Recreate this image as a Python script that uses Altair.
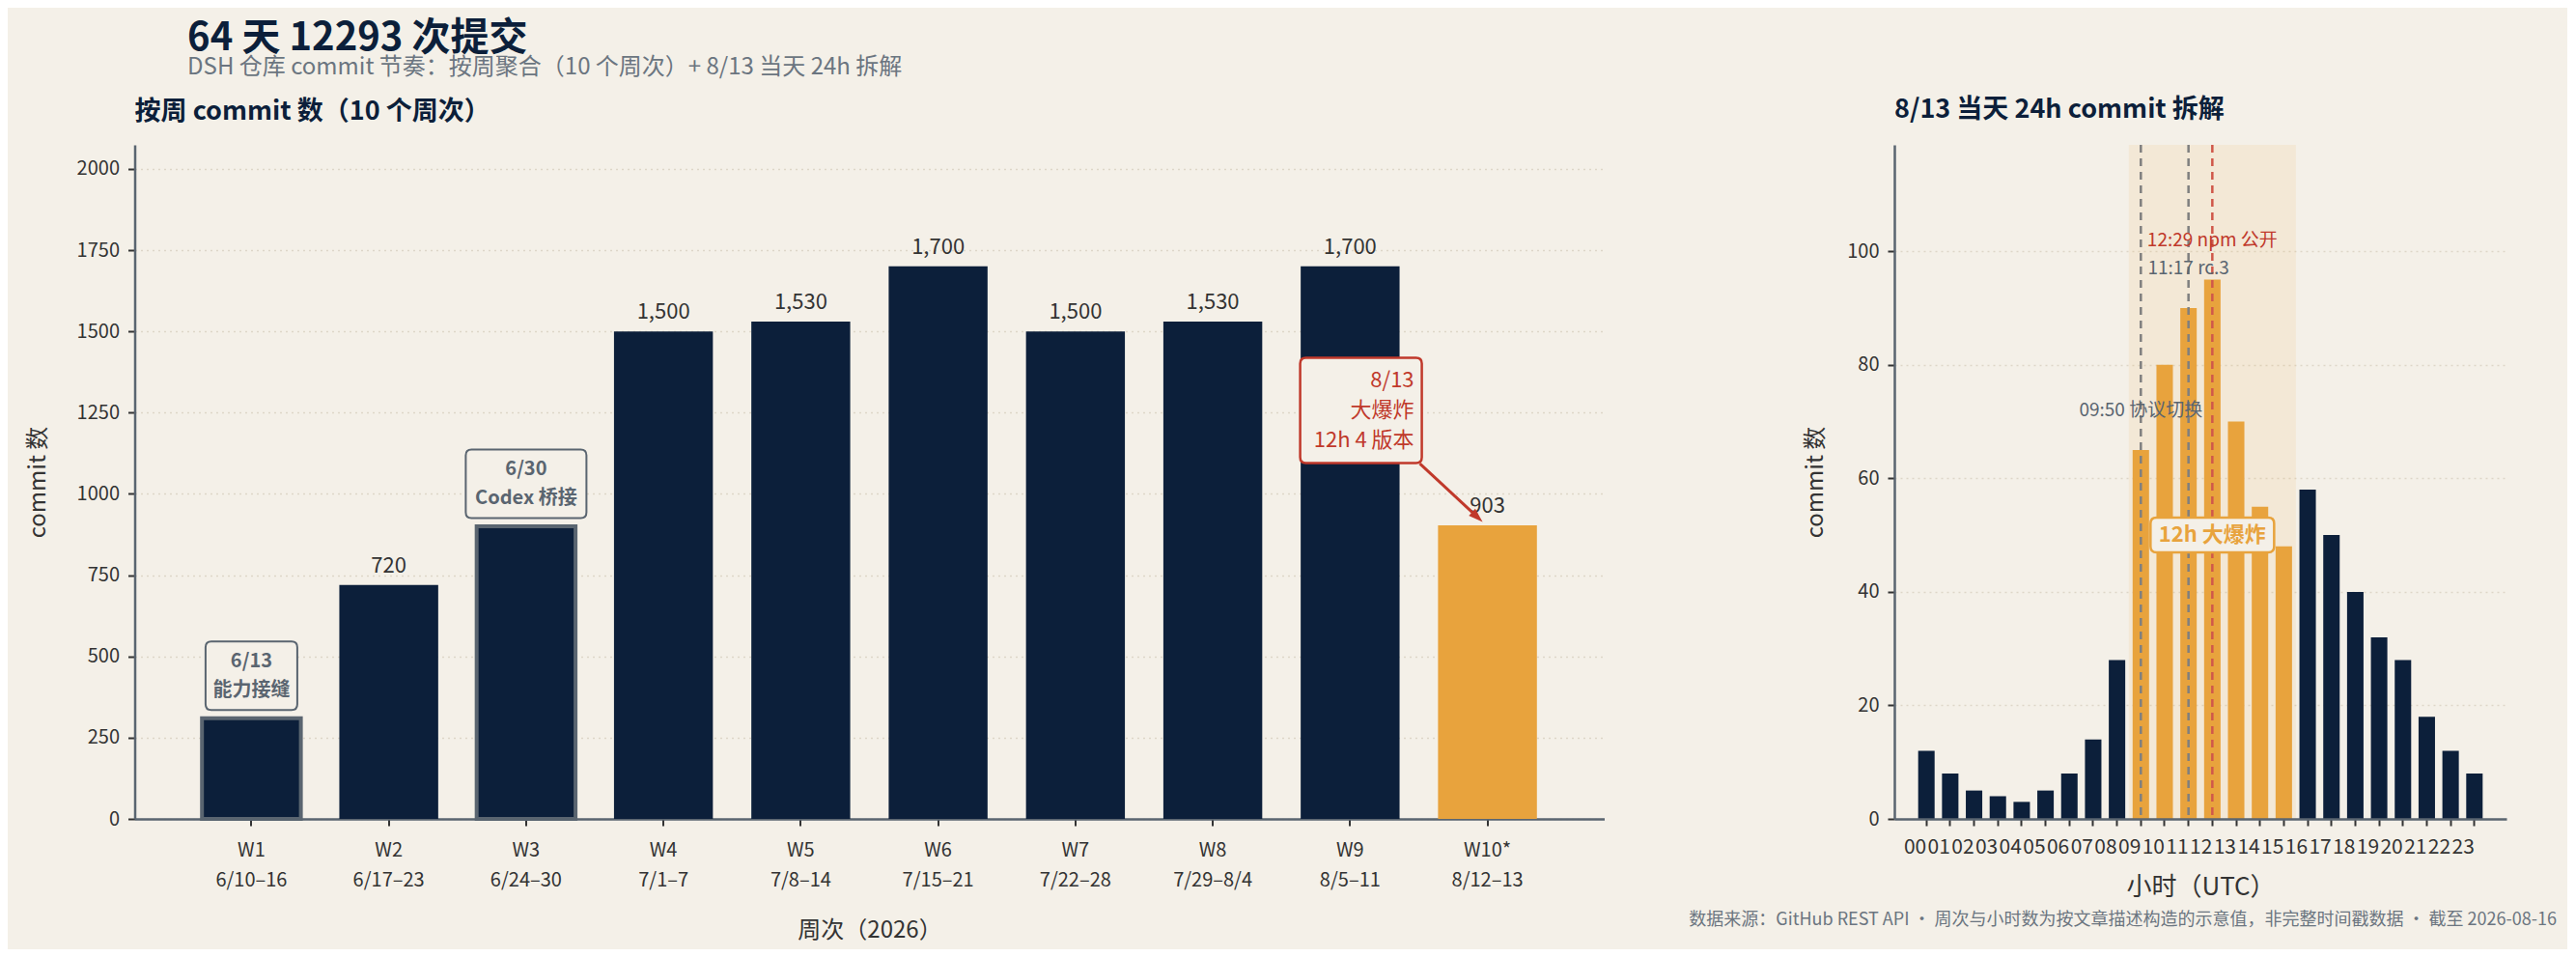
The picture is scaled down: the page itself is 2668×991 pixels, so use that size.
import altair as alt
import pandas as pd

NAVY = "#0c1f3a"
ORANGE = "#e8a33d"
BG = "#f4f0e8"
GRAY = "#5a6570"
RED = "#c0392b"
INK = "#333333"
GRID = "#ddd6c8"
FONT = "Noto Sans CJK SC"

# weekly commits, 10 weeks
week_names = ["W1", "W2", "W3", "W4", "W5", "W6", "W7", "W8", "W9", "W10*"]
week_spans = ["6/10–16", "6/17–23", "6/24–30", "7/1–7", "7/8–14",
              "7/15–21", "7/22–28", "7/29–8/4", "8/5–11", "8/12–13"]
week_commits = [310, 720, 900, 1500, 1530, 1700, 1500, 1530, 1700, 903]
week_kind = ["marked", "normal", "marked", "normal", "normal",
             "normal", "normal", "normal", "normal", "today"]

# notes on the weekly panel
note_weeks = ["W1", "W3"]
note_texts = ["6/13\n能力接缝", "6/30\nCodex 桥接"]
today_week = "W10*"
today_text = "8/13\n大爆炸\n12h 4 版本"

# 8/13 hourly commits (UTC)
hours = ["00", "01", "02", "03", "04", "05", "06", "07", "08", "09", "10", "11",
         "12", "13", "14", "15", "16", "17", "18", "19", "20", "21", "22", "23"]
hour_commits = [12, 8, 5, 4, 3, 5, 8, 14, 28, 65, 80, 90,
                95, 70, 55, 48, 58, 50, 40, 32, 28, 18, 12, 8]
burst_hours = ["09", "10", "11", "12", "13", "14", "15"]
event_hours = ["09", "11", "12"]
event_texts = ["09:50 协议切换", "11:17 rc.3", "12:29 npm 公开"]
event_kinds = ["step", "step", "release"]
burst_text = "12h 大爆炸"
burst_level = 50

footer = "数据来源：GitHub REST API · 周次与小时数为按文章描述构造的示意值，非完整时间戳数据 · 截至 2026-08-16"


def box_path(w, h, r):
    hy = h / w
    rr = 2 * r / w
    return (f"M{-1 + rr},{-hy} L{1 - rr},{-hy} Q1,{-hy} 1,{-hy + rr} "
            f"L1,{hy - rr} Q1,{hy} {1 - rr},{hy} L{-1 + rr},{hy} "
            f"Q-1,{hy} -1,{hy - rr} L-1,{-hy + rr} Q-1,{-hy} {-1 + rr},{-hy} Z")


def box_mark(chart, w, h, stroke, sw=2, **offsets):
    return chart.mark_point(shape=box_path(w, h, 6), size=w * w, filled=True,
                            fill=BG, stroke=stroke, strokeWidth=sw,
                            opacity=1, fillOpacity=1, **offsets)


# ---------- weekly panel ----------
weeks = pd.DataFrame({"name": week_names, "span": week_spans,
                      "commits": week_commits, "kind": week_kind})
weeks["label"] = weeks["name"] + "|" + weeks["span"]
week_order = list(weeks["label"])

x_week = alt.X("label:N", sort=week_order,
               scale=alt.Scale(domain=week_order, paddingInner=0.28, paddingOuter=0.49),
               axis=alt.Axis(title="周次（2026）", labelExpr="split(datum.label, '|')",
                             labelAngle=0, labelLineHeight=31, labelPadding=15,
                             titlePadding=30, grid=False))
y_week = alt.Y("commits:Q", scale=alt.Scale(domain=[0, 2074], nice=False),
               axis=alt.Axis(title="commit 数", values=list(range(0, 2001, 250)),
                             format="d", titlePadding=28, labelPadding=9))

bars_w = alt.Chart(weeks).mark_bar(stroke=GRAY).encode(
    x=x_week, y=y_week,
    color=alt.Color("kind:N", legend=None,
                    scale=alt.Scale(domain=["normal", "marked", "today"],
                                    range=[NAVY, NAVY, ORANGE])),
    strokeWidth=alt.condition("datum.kind == 'marked'", alt.value(4), alt.value(0)),
)
values_w = alt.Chart(weeks).transform_filter("datum.kind != 'marked'").mark_text(
    baseline="bottom", dy=-8, fontSize=22, color=INK
).encode(x="label:N", y="commits:Q", text=alt.Text("commits:Q", format=","))

notes = weeks[weeks["name"].isin(note_weeks)].copy()
notes["note"] = notes["name"].map(dict(zip(note_weeks, note_texts)))
note_layers = []
for name, w in zip(note_weeks, [95, 125]):
    one = alt.Chart(notes).transform_filter(f"datum.name == '{name}'")
    note_layers.append(box_mark(one, w, 71, GRAY, yOffset=-44)
                       .encode(x="label:N", y="commits:Q"))
note_text = alt.Chart(notes).mark_text(
    lineBreak="\n", fontSize=20, fontWeight="bold", color=GRAY,
    lineHeight=30, baseline="middle", yOffset=-59
).encode(x="label:N", y="commits:Q", text="note:N")

today = weeks[weeks["name"] == today_week].copy()
today["note"] = today_text
today_base = alt.Chart(today)
arrow = today_base.mark_rule(color=RED, strokeWidth=3, xOffset=-70, yOffset=-64,
                             x2Offset=-14, y2Offset=-12).encode(
    x="label:N", y="commits:Q", x2="label:N", y2="commits:Q")
arrow_head = today_base.mark_point(shape="M0,-1L0.65,1L-0.65,1Z", size=225, angle=133,
                                   filled=True, color=RED, opacity=1,
                                   xOffset=-10.5, yOffset=-8.6).encode(
    x="label:N", y="commits:Q")
today_box = box_mark(today_base, 126, 109, RED, sw=2.5, xOffset=-131, yOffset=-119).encode(
    x="label:N", y="commits:Q")
today_label = today_base.mark_text(
    lineBreak="\n", fontSize=22, color=RED, align="right", lineHeight=31,
    baseline="middle", xOffset=-76, yOffset=-150
).encode(x="label:N", y="commits:Q", text="note:N")

weekly = alt.layer(bars_w, values_w, *note_layers, note_text, arrow, arrow_head,
                   today_box, today_label).properties(
    width=1522, height=698,
    title=alt.TitleParams("按周 commit 数（10 个周次）", anchor="start", frame="group",
                          fontSize=27, fontWeight="bold", color=NAVY, offset=20.5),
)

# ---------- hourly panel ----------
hourly = pd.DataFrame({"hour": hours, "commits": hour_commits})
hourly["kind"] = ["burst" if h in burst_hours else "calm" for h in hours]
events = pd.DataFrame({"hour": event_hours, "text": event_texts, "kind": event_kinds})
events["commits"] = events["hour"].map(dict(zip(hours, hour_commits)))
span = pd.DataFrame({"hour": [burst_hours[0]], "hour_end": [burst_hours[-1]]})
burst = pd.DataFrame({"hour": [burst_hours[3]], "level": [burst_level], "text": [burst_text]})

x_hour = alt.X("hour:N", sort=hours,
               scale=alt.Scale(domain=hours, paddingInner=0.31, paddingOuter=1),
               axis=alt.Axis(title="小时（UTC）", labelAngle=0, labelOverlap=False,
                             labelFontSize=21, labelPadding=22, titlePadding=18,
                             titleFontSize=26, grid=False))
y_hour = alt.Y("commits:Q", scale=alt.Scale(domain=[0, 118.75], nice=False),
               axis=alt.Axis(title="commit 数", values=list(range(0, 101, 20)),
                             titlePadding=20, labelPadding=9))

shade = alt.Chart(span).mark_rect(color=ORANGE, opacity=0.1, xOffset=-4, x2Offset=4).encode(
    x=alt.X("hour:N", bandPosition=0, title="小时（UTC）"),
    x2=alt.X2("hour_end", bandPosition=1),
)
bars_h = alt.Chart(hourly).mark_bar().encode(
    x=x_hour, y=y_hour,
    color=alt.Color("kind:N", legend=None,
                    scale=alt.Scale(domain=["calm", "burst"], range=[NAVY, ORANGE])),
)
event_scale = alt.Scale(domain=["step", "release"], range=["#7f7f7f", "#d0584a"])
rules = alt.Chart(events).mark_rule(strokeDash=[8, 6], strokeWidth=2.5).encode(
    x="hour:N", color=alt.Color("kind:N", scale=event_scale, legend=None))
event_label = alt.Chart(events).mark_text(fontSize=19, baseline="middle", yOffset=-41).encode(
    x="hour:N", y="commits:Q", text="text:N",
    color=alt.Color("kind:N", legend=None,
                    scale=alt.Scale(domain=["step", "release"], range=[GRAY, RED])))
burst_box = box_mark(alt.Chart(burst), 128, 36, ORANGE, sw=2.5).encode(
    x="hour:N", y=alt.Y("level:Q", title="commit 数"))
burst_label = alt.Chart(burst).mark_text(fontSize=22, fontWeight="bold", color=ORANGE,
                                         baseline="middle").encode(
    x="hour:N", y=alt.Y("level:Q", title="commit 数"), text="text:N")

hourly_chart = alt.layer(shade, bars_h, rules, event_label, burst_box, burst_label).properties(
    width=634, height=698,
    title=alt.TitleParams("8/13 当天 24h commit 拆解", anchor="start", frame="group",
                          fontSize=27, fontWeight="bold", color=NAVY, offset=20.5),
).resolve_scale(color="independent")

weekly = weekly.resolve_scale(color="independent")

inner = alt.hconcat(weekly, hourly_chart, spacing=206.5).properties(
    title=alt.TitleParams("64 天 12293 次提交",
                          subtitle="DSH 仓库 commit 节奏：按周聚合（10 个周次）+ 8/13 当天 24h 拆解",
                          anchor="start", fontSize=40, fontWeight="bold", color=NAVY,
                          subtitleFontSize=24, subtitleColor="#6b7580", subtitlePadding=-2,
                          dx=167, offset=18),
)

chart = alt.hconcat(inner).properties(
    title=alt.TitleParams(footer, orient="bottom", anchor="end", fontSize=18,
                          fontWeight="normal", color="#6b7580", dx=52, dy=-35),
    padding={"left": 18.5, "top": 12, "right": 10, "bottom": 8},
    background=BG,
).configure_view(stroke=None).configure_axis(
    labelFont=FONT, titleFont=FONT, labelFontSize=20, titleFontSize=24,
    labelColor=INK, titleColor=INK, titleFontWeight="normal",
    domainColor=GRAY, domainWidth=2.5, tickColor=INK, tickSize=7, tickWidth=2,
    gridColor=GRID, gridDash=[2, 4], gridWidth=1.5,
).configure_text(font=FONT).configure_title(font=FONT, subtitleFont=FONT)

chart.save("out.html", embed_options={"renderer": "svg", "actions": False})
